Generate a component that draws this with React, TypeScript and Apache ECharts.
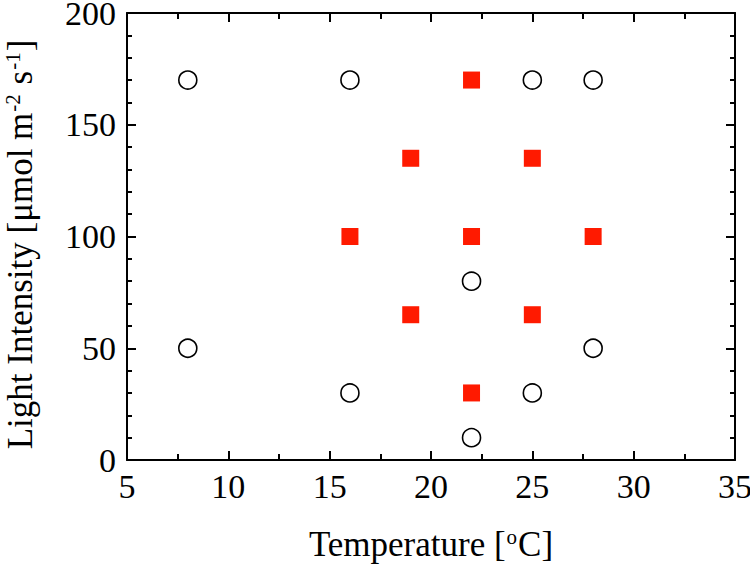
import React, { useEffect, useRef } from "react";
import * as echarts from "echarts";

const openCirclePoints: [number, number][] = [
  [8, 170], [16, 170], [25, 170], [28, 170],
  [22, 80], [8, 50], [28, 50], [16, 30], [25, 30], [22, 10],
];
const filledSquarePoints: [number, number][] = [
  [22, 170], [19, 135], [25, 135], [16, 100], [22, 100], [28, 100],
  [19, 65], [25, 65], [22, 30],
];
const xRange = { min: 5, max: 35, interval: 5 };
const yRange = { min: 0, max: 200, interval: 50 };

const FONT = "'Liberation Serif', 'Times New Roman', serif";

export default function App() {
  const ref = useRef<HTMLDivElement>(null);
  useEffect(() => {
    if (!ref.current) return;
    const chart = echarts.init(ref.current, null, { renderer: "svg" });
    const axisLine = { show: true, onZero: false, lineStyle: { color: "#000", width: 2 } };
    const axisTick = { show: true, inside: true, length: 9, lineStyle: { color: "#000", width: 2 } };
    const labelStyle = { color: "#000", fontFamily: FONT, fontSize: 34, lineHeight: 28 };
    const nameRich = {
      a: { fontFamily: FONT, fontSize: 35, color: "#000" },
      sup: { fontFamily: FONT, fontSize: 21, color: "#000", verticalAlign: "top" as const, padding: [0, 1, 15, 1] },
    };
    chart.setOption({
      animation: false,
      backgroundColor: "#fff",
      textStyle: { fontFamily: FONT },
      grid: { left: 127, right: 15, top: 13, bottom: 104, containLabel: false, outerBoundsMode: "none" },
      xAxis: [
        {
          type: "value", ...xRange, position: "bottom",
          axisLine, axisTick,
          minorTick: { show: true, splitNumber: 2, length: 6, lineStyle: { color: "#000", width: 2 } },
          splitLine: { show: false },
          axisLabel: { ...labelStyle, margin: 12 },
          name: "{a|Temperature [}{sup|o}{a|C]}",
          nameLocation: "middle", nameGap: 66,
          nameTextStyle: { rich: nameRich, fontFamily: FONT },
        },
        {
          type: "value", ...xRange, position: "top",
          axisLine, axisTick,
          minorTick: { show: true, splitNumber: 2, length: 6, lineStyle: { color: "#000", width: 2 } },
          splitLine: { show: false }, axisLabel: { show: false },
        },
      ],
      yAxis: [
        {
          type: "value", ...yRange, position: "left",
          axisLine, axisTick,
          minorTick: { show: true, splitNumber: 5, length: 5, lineStyle: { color: "#000", width: 2 } },
          splitLine: { show: false },
          axisLabel: { ...labelStyle, margin: 11 },
          name: "{a|Light Intensity [μmol m}{sup|-2}{a| s}{sup|-1}{a|]}",
          nameLocation: "middle", nameGap: 89,
          nameTextStyle: { rich: nameRich, fontFamily: FONT, padding: [0, 16, 0, 0] },
        },
        {
          type: "value", ...yRange, position: "right",
          axisLine, axisTick,
          minorTick: { show: true, splitNumber: 5, length: 5, lineStyle: { color: "#000", width: 2 } },
          splitLine: { show: false }, axisLabel: { show: false },
        },
      ],
      series: [
        {
          type: "scatter", data: openCirclePoints, symbol: "circle", symbolSize: 18,
          itemStyle: { color: "#fff", borderColor: "#000", borderWidth: 1.6, opacity: 1 },
        },
        {
          type: "scatter", data: filledSquarePoints, symbol: "rect", symbolSize: 17,
          itemStyle: { color: "#ff1a00", borderWidth: 0, opacity: 1 },
        },
      ],
    });
    return () => chart.dispose();
  }, []);
  return <div ref={ref} style={{ position: "fixed", left: 0, top: 0, width: 750, height: 564 }} />;
}
